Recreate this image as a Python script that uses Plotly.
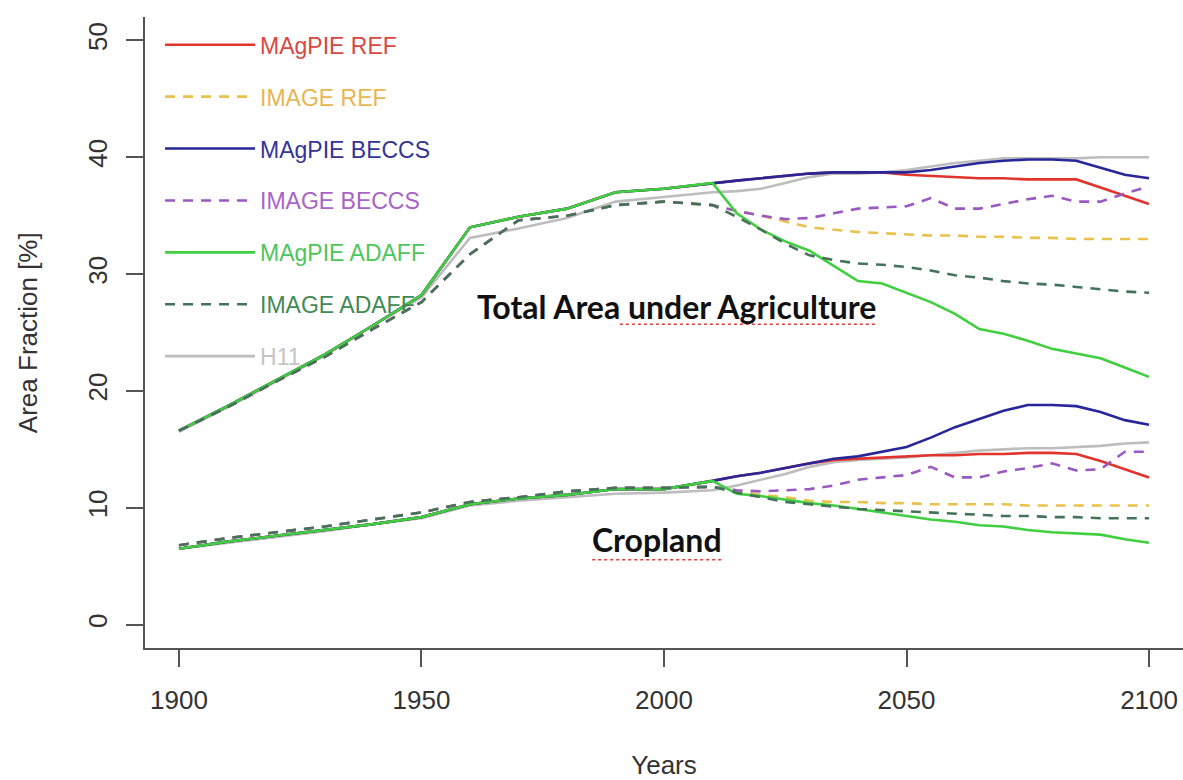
import plotly.graph_objects as go

# ---------------- data ----------------
YEARS_HIST = [1900, 1910, 1920, 1930, 1940, 1950, 1960, 1970, 1980, 1990, 2000, 2010]
YEARS_FUT = [2015, 2020, 2025, 2030, 2035, 2040, 2045, 2050, 2055, 2060,
             2065, 2070, 2075, 2080, 2085, 2090, 2095, 2100]

SERIES = ["MAgPIE REF", "IMAGE REF", "MAgPIE BECCS", "IMAGE BECCS",
          "MAgPIE ADAFF", "IMAGE ADAFF", "H11"]

# historical part (shared by model scenarios)
TOTAL_HIST_MAGPIE = [16.6, 18.7, 20.9, 23.1, 25.6, 28.2, 34.0, 34.9, 35.6, 37.0, 37.3, 37.8]
TOTAL_HIST_IMAGE = [16.6, 18.6, 20.8, 22.9, 25.3, 27.6, 31.7, 34.6, 35.0, 35.9, 36.2, 35.9]
TOTAL_HIST_H11 = [16.5, 18.6, 20.8, 23.0, 25.6, 28.0, 33.1, 33.9, 34.8, 36.2, 36.6, 37.0]
CROP_HIST_MAGPIE = [6.5, 7.1, 7.6, 8.1, 8.6, 9.2, 10.3, 10.8, 11.1, 11.6, 11.6, 12.3]
CROP_HIST_IMAGE = [6.8, 7.4, 7.9, 8.4, 9.0, 9.6, 10.5, 10.9, 11.4, 11.7, 11.7, 11.8]
CROP_HIST_H11 = [6.5, 7.0, 7.5, 8.0, 8.6, 9.1, 10.2, 10.6, 10.9, 11.2, 11.3, 11.5]

# future, total area under agriculture [%]
TOTAL_MAGPIE_REF = [38.0, 38.2, 38.4, 38.6, 38.7, 38.7, 38.7, 38.5, 38.4, 38.3, 38.2, 38.2, 38.1, 38.1, 38.1, 37.4, 36.7, 36.0]
TOTAL_IMAGE_REF = [35.4, 35.0, 34.5, 34.0, 33.8, 33.6, 33.5, 33.4, 33.3, 33.3, 33.2, 33.2, 33.1, 33.1, 33.0, 33.0, 33.0, 33.0]
TOTAL_MAGPIE_BECCS = [38.0, 38.2, 38.4, 38.6, 38.7, 38.7, 38.7, 38.7, 38.9, 39.2, 39.5, 39.7, 39.8, 39.8, 39.7, 39.1, 38.5, 38.2]
TOTAL_IMAGE_BECCS = [35.4, 35.0, 34.7, 34.8, 35.2, 35.6, 35.7, 35.8, 36.5, 35.6, 35.6, 36.0, 36.4, 36.7, 36.2, 36.2, 36.9, 37.5]
TOTAL_MAGPIE_ADAFF = [35.2, 33.8, 32.8, 32.0, 30.7, 29.4, 29.2, 28.4, 27.6, 26.6, 25.3, 24.9, 24.3, 23.6, 23.2, 22.8, 22.0, 21.2]
TOTAL_IMAGE_ADAFF = [34.9, 33.8, 32.6, 31.6, 31.2, 30.9, 30.8, 30.6, 30.3, 29.9, 29.7, 29.4, 29.2, 29.1, 28.9, 28.7, 28.5, 28.4]
TOTAL_H11 = [37.1, 37.3, 37.8, 38.3, 38.6, 38.6, 38.7, 38.9, 39.2, 39.5, 39.7, 39.9, 39.9, 39.9, 39.9, 40.0, 40.0, 40.0]

# future, cropland [%]
CROP_MAGPIE_REF = [12.7, 13.0, 13.4, 13.8, 14.1, 14.2, 14.3, 14.4, 14.5, 14.5, 14.6, 14.6, 14.7, 14.7, 14.6, 14.0, 13.3, 12.6]
CROP_IMAGE_REF = [11.4, 11.1, 10.9, 10.6, 10.5, 10.5, 10.4, 10.4, 10.3, 10.3, 10.3, 10.3, 10.2, 10.2, 10.2, 10.2, 10.2, 10.2]
CROP_MAGPIE_BECCS = [12.7, 13.0, 13.4, 13.8, 14.2, 14.4, 14.8, 15.2, 16.0, 16.9, 17.6, 18.3, 18.8, 18.8, 18.7, 18.2, 17.5, 17.1]
CROP_IMAGE_BECCS = [11.5, 11.4, 11.5, 11.6, 11.9, 12.4, 12.6, 12.8, 13.5, 12.6, 12.6, 13.1, 13.4, 13.8, 13.2, 13.3, 14.8, 14.8]
CROP_MAGPIE_ADAFF = [11.2, 11.0, 10.7, 10.4, 10.2, 9.9, 9.6, 9.3, 9.0, 8.8, 8.5, 8.4, 8.1, 7.9, 7.8, 7.7, 7.3, 7.0]
CROP_IMAGE_ADAFF = [11.3, 10.9, 10.5, 10.3, 10.1, 9.9, 9.8, 9.7, 9.6, 9.5, 9.4, 9.3, 9.3, 9.2, 9.2, 9.1, 9.1, 9.1]
CROP_H11 = [11.9, 12.4, 12.9, 13.5, 13.9, 14.1, 14.2, 14.3, 14.5, 14.7, 14.9, 15.0, 15.1, 15.1, 15.2, 15.3, 15.5, 15.6]

X_TICKS = [1900, 1950, 2000, 2050, 2100]
Y_TICKS = [0, 10, 20, 30, 40, 50]

LABEL_TOTAL = "Total Area under Agriculture"
LABEL_CROP = "Cropland"
X_TITLE = "Years"
Y_TITLE = "Area Fraction [%]"

# ---------------- styling ----------------
STYLE = {
    "MAgPIE REF":   dict(color="#e2332d", text="#d9473f", dash="solid", rank=1),
    "IMAGE REF":    dict(color="#e9c14d", text="#e8b64f", dash="10px,8px", rank=2),
    "MAgPIE BECCS": dict(color="#27279a", text="#33339a", dash="solid", rank=3),
    "IMAGE BECCS":  dict(color="#9a58c2", text="#a863c8", dash="10px,8px", rank=4),
    "MAgPIE ADAFF": dict(color="#3fcf3f", text="#4cc65a", dash="solid", rank=5),
    "IMAGE ADAFF":  dict(color="#45735a", text="#3f8a55", dash="10px,8px", rank=6),
    "H11":          dict(color="#bdbdbd", text="#c4c4c4", dash="solid", rank=7),
}

DATA = {
    "MAgPIE REF":   (TOTAL_HIST_MAGPIE + TOTAL_MAGPIE_REF, CROP_HIST_MAGPIE + CROP_MAGPIE_REF),
    "IMAGE REF":    (TOTAL_HIST_IMAGE + TOTAL_IMAGE_REF, CROP_HIST_IMAGE + CROP_IMAGE_REF),
    "MAgPIE BECCS": (TOTAL_HIST_MAGPIE + TOTAL_MAGPIE_BECCS, CROP_HIST_MAGPIE + CROP_MAGPIE_BECCS),
    "IMAGE BECCS":  (TOTAL_HIST_IMAGE + TOTAL_IMAGE_BECCS, CROP_HIST_IMAGE + CROP_IMAGE_BECCS),
    "MAgPIE ADAFF": (TOTAL_HIST_MAGPIE + TOTAL_MAGPIE_ADAFF, CROP_HIST_MAGPIE + CROP_MAGPIE_ADAFF),
    "IMAGE ADAFF":  (TOTAL_HIST_IMAGE + TOTAL_IMAGE_ADAFF, CROP_HIST_IMAGE + CROP_IMAGE_ADAFF),
    "H11":          (TOTAL_HIST_H11 + TOTAL_H11, CROP_HIST_H11 + CROP_H11),
}

DRAW_ORDER = ["H11", "MAgPIE REF", "IMAGE REF", "MAgPIE BECCS", "IMAGE BECCS",
              "MAgPIE ADAFF", "IMAGE ADAFF"]

years = YEARS_HIST + YEARS_FUT

fig = go.Figure()
for name in DRAW_ORDER:
    st = STYLE[name]
    total, crop = DATA[name]
    fig.add_trace(go.Scatter(
        x=years + [None] + years,
        y=total + [None] + crop,
        mode="lines",
        name=f"<span style='color:{st['text']}'>{name}</span>",
        legendgroup=name,
        legendrank=st["rank"],
        line=dict(color=st["color"], width=2.6, dash=st["dash"]),
        connectgaps=False,
        hoverinfo="skip",
    ))

FONT = "Liberation Sans"
LABEL_FONT = "Lato"

# red spell-check style underlines under the two labels
SQUIGGLE = dict(type="line", xref="x", yref="y",
                line=dict(color="#e03a3a", width=1.6, dash="dot"))

fig.update_layout(
    width=1183, height=780,
    margin=dict(l=145, r=0, t=17, b=132),
    paper_bgcolor="white", plot_bgcolor="white",
    font=dict(family=FONT, color="#333333", size=26),
    showlegend=True,
    legend=dict(
        x=0.0145, y=0.99, xanchor="left", yanchor="top",
        bgcolor="rgba(0,0,0,0)", borderwidth=0,
        font=dict(family=FONT, size=23),
        tracegroupgap=19,
        itemwidth=90,
    ),
    xaxis=dict(
        range=[1893, 2107], tickvals=X_TICKS, ticktext=[str(v) for v in X_TICKS],
        showgrid=False, zeroline=False,
        showline=True, linecolor="#555555", linewidth=2,
        ticks="outside", ticklen=17, tickwidth=1.5, tickcolor="#555555",
        tickfont=dict(family=FONT, size=26, color="#333333"),
        ticklabelstandoff=11,
        title=dict(text=X_TITLE, font=dict(family=FONT, size=26, color="#333333"), standoff=42),
    ),
    yaxis=dict(
        range=[-2, 52], tickvals=Y_TICKS, ticktext=[str(v) for v in Y_TICKS],
        showgrid=False, zeroline=False,
        showline=True, linecolor="#555555", linewidth=2,
        ticks="outside", ticklen=17, tickwidth=1.5, tickcolor="#555555",
        tickangle=-90,
        tickfont=dict(family=FONT, size=26, color="#333333"),
        ticklabelstandoff=9,
    ),
    annotations=[
        dict(x=-0.1127, y=0.499, xref="paper", yref="paper", text=Y_TITLE, textangle=-90,
             xanchor="center", yanchor="middle", showarrow=False,
             font=dict(family=FONT, size=26, color="#333333")),
        dict(x=2002.5, y=27.25, xref="x", yref="y", text=f"<b>{LABEL_TOTAL}</b>",
             showarrow=False, font=dict(family=LABEL_FONT, size=32, color="#111111")),
        dict(x=1998.6, y=7.25, xref="x", yref="y", text=f"<b>{LABEL_CROP}</b>",
             showarrow=False, font=dict(family=LABEL_FONT, size=32, color="#111111")),
    ],
    shapes=[
        dict(SQUIGGLE, x0=1990.9, x1=2044.1, y0=25.7, y1=25.7),
        dict(SQUIGGLE, x0=1985.2, x1=2012.0, y0=5.55, y1=5.55),
    ],
)

fig.write_html(
    "out.html",
    config={"displayModeBar": False},
    post_script="document.body.style.margin='0';document.body.style.overflow='hidden';",
)
